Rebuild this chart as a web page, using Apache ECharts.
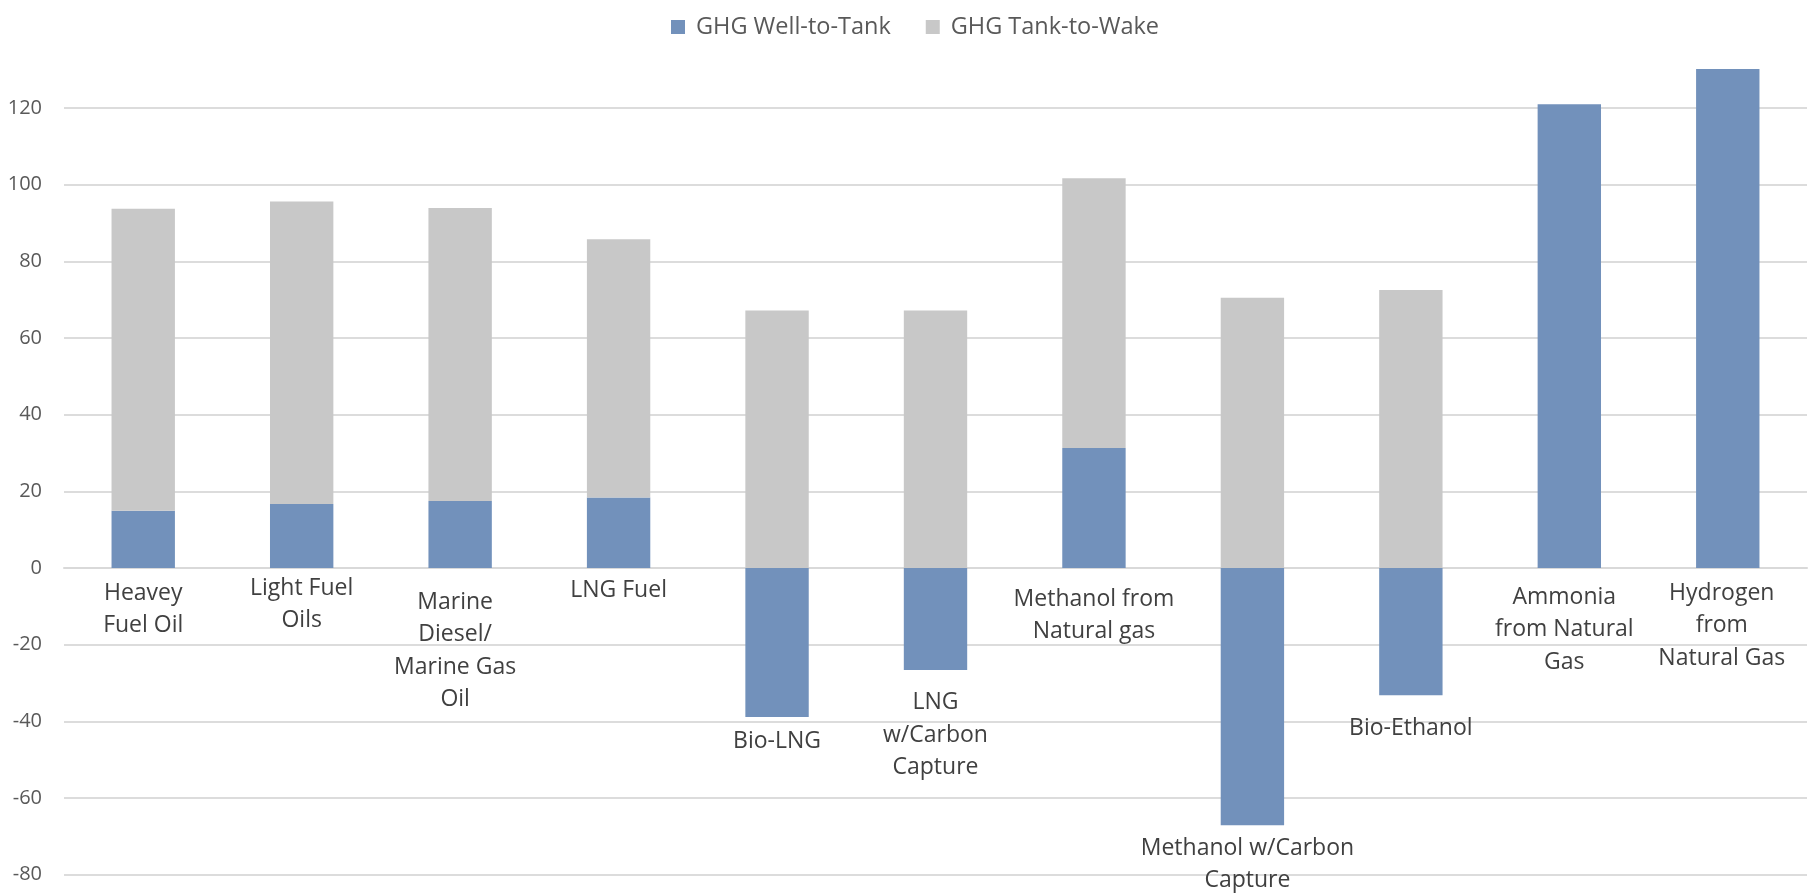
<!DOCTYPE html>
<html>
<head>
<meta charset="utf-8">
<title>GHG emissions by marine fuel</title>
<script src="https://cdn.jsdelivr.net/npm/echarts@6/dist/echarts.min.js"></script>
<style>
  html, body { margin: 0; padding: 0; background: #ffffff; }
  #chart { width: 1810px; height: 894px; }
</style>
</head>
<body>
<div id="chart"></div>
<script>
// Fuel pathways (line breaks follow the wrapped category names)
const categories = [
  'Heavey\nFuel Oil',
  'Light Fuel\nOils',
  'Marine\nDiesel/\nMarine Gas\nOil',
  'LNG Fuel',
  'Bio-LNG',
  'LNG\nw/Carbon\nCapture',
  'Methanol from\nNatural gas',
  'Methanol w/Carbon\nCapture',
  'Bio-Ethanol',
  'Ammonia\nfrom Natural\nGas',
  'Hydrogen\nfrom\nNatural Gas'
];

// Well-to-Tank emissions (negative where carbon is captured or absorbed)
const wellToTank = [14.9, 16.7, 17.5, 18.4, -38.9, -26.6, 31.3, -67.1, -33.2, 121.0, 130.2];

// Tank-to-Wake emissions
const tankToWake = [78.8, 78.9, 76.4, 67.4, 67.2, 67.2, 70.4, 70.5, 72.5, 0, 0];

// Value axis ticks
const yMin = -80;
const yMax = 140;
const yStep = 20;

// Per-category nudges of the name labels, [dx, dy] in px
const nameLabelNudge = [
  [0, 9], [0, 4], [-5, 18], [0, 6.5], [0, 8], [0, 16.5],
  [0, 15], [-5, 7], [0, 17], [-5, 13], [-6, 9]
];

const FONT = '"Open Sans", "Noto Sans", sans-serif';

const chart = echarts.init(document.getElementById('chart'), null, { renderer: 'canvas' });

chart.setOption({
  animation: false,
  backgroundColor: '#ffffff',
  textStyle: { fontFamily: FONT },
  legend: {
    top: 10,
    left: 666,
    icon: 'rect',
    itemWidth: 14,
    itemHeight: 14,
    itemGap: 35,
    textStyle: {
      fontFamily: FONT,
      fontSize: 23.5,
      color: '#595959',
      padding: [0, 0, 0, 6]
    },
    data: ['GHG Well-to-Tank', 'GHG Tank-to-Wake']
  },
  grid: {
    left: 64,
    right: 3,
    top: 31.4,
    bottom: 19.4,
    containLabel: false
  },
  xAxis: {
    type: 'category',
    data: categories,
    axisLine: { show: true, onZero: true, lineStyle: { color: '#d9d9d9', width: 2 } },
    axisTick: { show: false },
    axisLabel: { show: false },
    splitLine: { show: false }
  },
  yAxis: {
    type: 'value',
    min: yMin,
    max: yMax,
    interval: yStep,
    axisLine: { show: false },
    axisTick: { show: false },
    axisLabel: {
      showMaxLabel: false,
      margin: 22,
      fontFamily: FONT,
      fontSize: 20,
      color: '#595959'
    },
    splitLine: {
      show: true,
      showMaxLine: false,
      lineStyle: { color: '#dcdcdc', width: 2 }
    }
  },
  series: [
    {
      name: 'GHG Well-to-Tank',
      type: 'bar',
      stack: 'ghg',
      barWidth: '40%',
      itemStyle: { color: '#7291bb' },
      label: {
        show: true,
        position: 'bottom',
        distance: 0,
        formatter: '{b}',
        fontFamily: FONT,
        fontSize: 23,
        lineHeight: 32.5,
        color: '#404040',
        align: 'center'
      },
      data: wellToTank.map((v, i) => ({
        value: v,
        label: { offset: nameLabelNudge[i] }
      }))
    },
    {
      name: 'GHG Tank-to-Wake',
      type: 'bar',
      stack: 'ghg',
      barWidth: '40%',
      itemStyle: { color: '#c8c8c8' },
      data: tankToWake
    }
  ]
});
</script>
</body>
</html>
